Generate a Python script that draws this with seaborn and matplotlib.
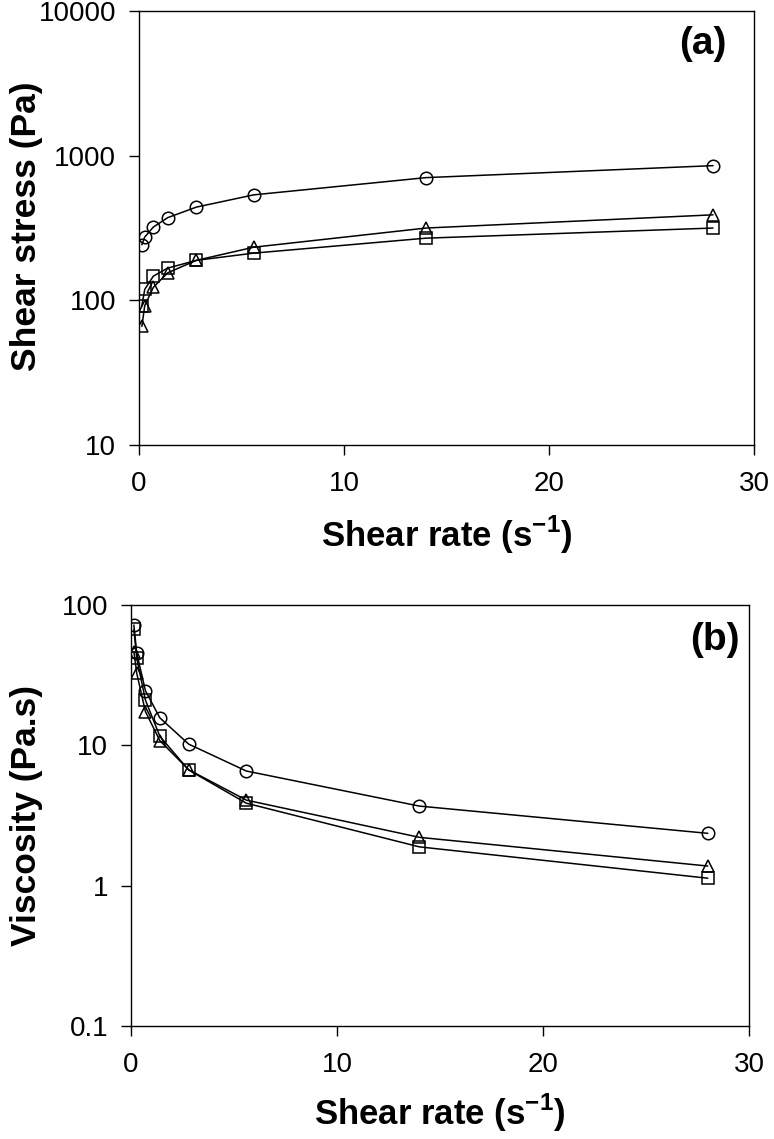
import numpy as np
import pandas as pd
import matplotlib
matplotlib.use("Agg")
import matplotlib.pyplot as plt
import seaborn as sns

# ---------- DATA ----------
rate = [0.14, 0.28, 0.7, 1.4, 2.8, 5.6, 14, 28]

# panel (a) shear stress (Pa)
stress_circle = [242, 274, 321, 373, 441, 536, 705, 853]
stress_square = [92, 119, 147, 167, 189, 212, 269, 316]
stress_triangle = [66, 92, 123, 155, 189, 233, 316, 390]

# panel (b) viscosity (Pa.s)
visc_circle = [72, 45.3, 24.5, 15.7, 10.2, 6.56, 3.69, 2.36]
visc_square = [67, 41.7, 21.0, 11.6, 6.67, 3.87, 1.89, 1.13]
visc_triangle = [46.5, 32.6, 17.4, 10.8, 6.7, 4.07, 2.21, 1.38]

series = ["circle", "square", "triangle"]
marker_map = {"circle": "o", "square": "s", "triangle": "^"}


def long_table(c, s, t):
    rows = []
    for name, vals in zip(series, [c, s, t]):
        for x, y in zip(rate, vals):
            rows.append({"rate": x, "value": y, "sample": name})
    return pd.DataFrame(rows)


df_a = long_table(stress_circle, stress_square, stress_triangle)
df_b = long_table(visc_circle, visc_square, visc_triangle)

# ---------- STYLE ----------
sns.set_style("ticks")
plt.rcParams["font.family"] = ["Liberation Sans", "DejaVu Sans"]
plt.rcParams["mathtext.fontset"] = "custom"
plt.rcParams["mathtext.rm"] = "Liberation Sans"
plt.rcParams["mathtext.bf"] = "Liberation Sans:bold"
plt.rcParams["text.color"] = "black"
plt.rcParams["axes.labelcolor"] = "black"
plt.rcParams["xtick.color"] = "black"
plt.rcParams["ytick.color"] = "black"

W, H = 774, 1139
fig = plt.figure(figsize=(W / 100, H / 100), dpi=100)

# axes boxes in pixels: left, right, top, bottom
box_a = (139, 754, 11, 445)
box_b = (131, 749, 605, 1026)


def make_axes(box):
    l, r, t, b = box
    return fig.add_axes([l / W, 1 - b / H, (r - l) / W, (b - t) / H])


ax_a = make_axes(box_a)
ax_b = make_axes(box_b)

for ax, df in [(ax_a, df_a), (ax_b, df_b)]:
    sns.lineplot(data=df, x="rate", y="value", hue="sample", style="sample",
                 markers=marker_map, dashes=False,
                 palette=["black"] * 3, ax=ax, legend=False, sort=False,
                 linewidth=1.1, markersize=9, mfc="none", mec="black",
                 mew=1.1)
    ax.set_yscale("log")
    ax.set_xlim(0, 30)
    ax.set_xticks([0, 10, 20, 30])
    ax.minorticks_off()
    ax.tick_params(axis="both", direction="out", length=7.5, width=1.0,
                   labelsize=20, colors="black")
    ax.tick_params(axis="x", pad=11)
    ax.tick_params(axis="y", pad=9)
    for sp in ax.spines.values():
        sp.set_visible(True)
        sp.set_linewidth(1.0)
        sp.set_color("black")
    ax.set_xlabel(r"Shear rate (s$^{\mathbf{-1}}$)", fontsize=25,
                  fontweight="bold")

ax_a.set_ylim(10, 10000)
ax_a.set_yticks([10, 100, 1000, 10000])
ax_a.set_yticklabels(["10", "100", "1000", "10000"])
ax_a.set_ylabel("Shear stress (Pa)", fontsize=25.5, fontweight="bold")
ax_a.yaxis.set_label_coords((43 - 139) / 615, 0.505)
ax_a.xaxis.set_label_coords(0.5, (445 - 514) / 434)
ax_a.text(0.955, 0.965, "(a)", transform=ax_a.transAxes, ha="right",
          va="top", fontsize=28, fontweight="bold")

ax_b.set_ylim(0.1, 100)
ax_b.set_yticks([0.1, 1, 10, 100])
ax_b.set_yticklabels(["0.1", "1", "10", "100"])
ax_b.set_ylabel("Viscosity (Pa.s)", fontsize=25.5, fontweight="bold")
ax_b.yaxis.set_label_coords((43 - 131) / 618, 0.5)
ax_b.xaxis.set_label_coords(0.5, (1026 - 1092) / 421)
ax_b.text(0.985, 0.96, "(b)", transform=ax_b.transAxes, ha="right",
          va="top", fontsize=28, fontweight="bold")

fig.savefig("out.png", dpi=100)
plt.close(fig)
